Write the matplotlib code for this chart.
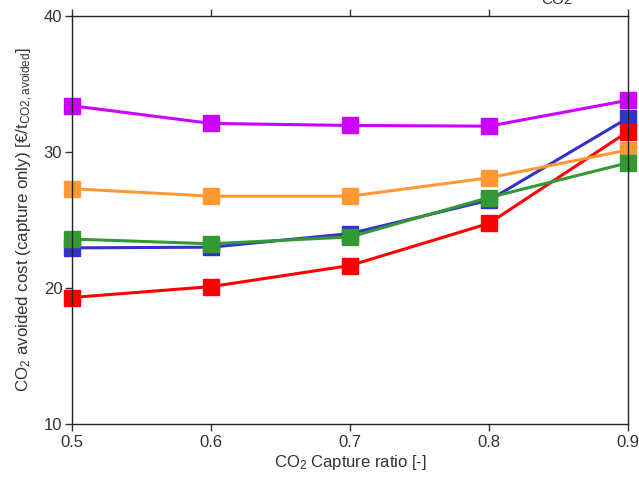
import numpy as np
import matplotlib
matplotlib.use("Agg")
import matplotlib.pyplot as plt

plt.rcParams['font.family'] = ['Liberation Sans', 'DejaVu Sans']
plt.rcParams['mathtext.fontset'] = 'custom'
plt.rcParams['mathtext.rm'] = 'Liberation Sans'
plt.rcParams['mathtext.it'] = 'Liberation Sans'

# capture ratio
capture_ratio = [0.5, 0.6, 0.7, 0.8, 0.9]

# avoided cost per case [EUR/t CO2 avoided]
cost_magenta = [33.4, 32.1, 31.95, 31.9, 33.8]
cost_blue = [22.95, 23.0, 24.0, 26.45, 32.5]
cost_red = [19.3, 20.1, 21.65, 24.75, 31.5]
cost_orange = [27.3, 26.75, 26.75, 28.1, 30.15]
cost_green = [23.6, 23.25, 23.75, 26.65, 29.2]

x_ticks = [0.5, 0.6, 0.7, 0.8, 0.9]
y_ticks = [10, 20, 30, 40]

fig = plt.figure(figsize=(6.39, 4.8), dpi=100)
ax = fig.add_axes([0.1127, 0.1167, 0.87, 0.85])

style = dict(marker='s', markersize=11.5, linewidth=2.2)
ax.plot(capture_ratio, cost_magenta, color='#cc00ff', **style)
ax.plot(capture_ratio, cost_blue, color='#3333cc', **style)
ax.plot(capture_ratio, cost_red, color='#ff0000', **style)
ax.plot(capture_ratio, cost_orange, color='#ff9933', **style)
ax.plot(capture_ratio, cost_green, color='#339933', **style)

for line in ax.lines:
    line.set_clip_on(False)

ax.set_xlim(0.5, 0.9)
ax.set_ylim(10, 40)
ax.set_xticks(x_ticks)
ax.set_xticklabels(['0.5', '0.6', '0.7', '0.8', '0.9'])
ax.set_yticks(y_ticks)
ax.tick_params(axis='both', direction='out', length=5, width=1, labelsize=12,
               colors='#333333', labelcolor='#333333')
ax.tick_params(axis='x', top=True, pad=3)
ax.tick_params(axis='y', right=False, pad=2)
for sp in ax.spines.values():
    sp.set_color('#222222')
    sp.set_linewidth(1)

ax.set_xlabel('CO$_2$ Capture ratio [-]', fontsize=12, color='#333333', labelpad=2)
ax.set_ylabel('CO$_2$ avoided cost (capture only) [€/t$_{\\mathrm{CO2,avoided}}$]',
              fontsize=12.2, color='#333333', labelpad=6)

# cut-off text at the top edge, as in the source image
fig.text(0.872, 0.992, 'CO2', fontsize=11, color='#333333', ha='center', va='baseline')

fig.savefig('out.png', dpi=100)
